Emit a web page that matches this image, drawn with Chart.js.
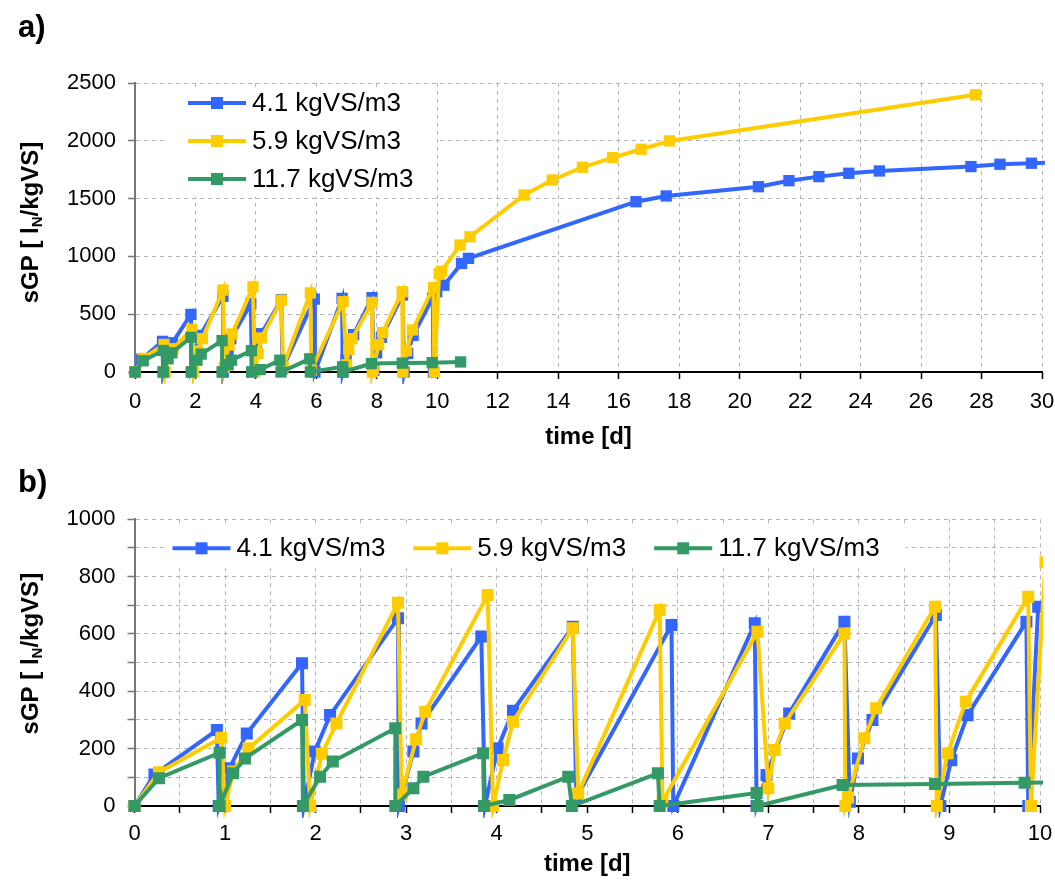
<!DOCTYPE html>
<html>
<head>
<meta charset="utf-8">
<script src="https://cdn.jsdelivr.net/npm/chart.js@4.4.0/dist/chart.umd.min.js"></script>
<style>
  body { margin: 0; background: #fff; width: 1055px; height: 881px; overflow: hidden; position: relative; }
  canvas { position: absolute; left: 0; }
  .tag { position: absolute; left: 18px; font: bold 31px Arial, "Liberation Sans", sans-serif; color: #000; z-index: 2; }
</style>
</head>
<body>
<canvas id="chartA" width="1055" height="454" style="top:0"></canvas>
<canvas id="chartB" width="1055" height="427" style="top:454px"></canvas>
<div class="tag" style="top:9px">a)</div>
<div class="tag" style="top:464px">b)</div>
<script>
// series labels
var seriesLabels = ['4.1 kgVS/m3', '5.9 kgVS/m3', '11.7 kgVS/m3'];

// 4.1 kgVS/m3 (time in days, sGP in lN/kgVS)
var days41 = [0, 0.22, 0.91, 0.93, 1.05, 1.24, 1.85, 1.87, 1.99, 2.16, 2.91, 2.92, 3.08, 3.17, 3.83, 3.87, 4.01, 4.18, 4.84, 4.88,
  5.93, 5.95, 6.85, 6.87, 6.98, 7.23, 7.84, 7.90, 7.99, 8.15, 8.85, 8.90, 9.02, 9.20, 9.85, 9.87, 9.98, 10.22, 10.80, 11.03,
  16.57, 17.57, 20.62, 21.63, 22.62, 23.61, 24.62, 27.65, 28.61, 29.65, 30.6];
var sgp41 = [0, 110, 265, 0, 132, 253, 498, 0, 190, 317, 655, 0, 190, 288, 591, 0, 201, 332, 625, 30,
  631, 0, 637, 0, 108, 323, 643, 15, 166, 300, 666, 0, 160, 317, 643, 0, 695, 751, 939, 983,
  1473, 1523, 1603, 1655, 1690, 1719, 1739, 1777, 1797, 1806, 1815];

// 5.9 kgVS/m3
var days59 = [0, 0.27, 0.96, 1.00, 1.09, 1.26, 1.88, 1.94, 2.07, 2.23, 2.91, 2.95, 3.11, 3.21, 3.90, 3.96, 4.07, 4.18, 4.84, 4.90,
  5.80, 5.83, 6.88, 7.00, 7.07, 7.18, 7.84, 7.85, 7.88, 8.06, 8.19, 8.84, 8.86, 8.98, 9.18, 9.87, 9.90, 10.06, 10.14, 10.75,
  11.08, 12.87, 13.80, 14.80, 15.80, 16.74, 17.68, 27.80];
var sgp59 = [0, 118, 238, 0, 120, 201, 370, 0, 182, 288, 709, 40, 233, 329, 736, 0, 160, 294, 620, 44,
  684, 15, 608, 62, 195, 288, 602, 0, 30, 236, 341, 695, 0, 184, 364, 730, 0, 850, 872, 1098,
  1170, 1531, 1661, 1771, 1854, 1927, 1999, 2398];

// 11.7 kgVS/m3
var days117 = [0, 0.27, 0.94, 0.94, 1.09, 1.22, 1.85, 1.86, 2.05, 2.19, 2.88, 2.88, 3.08, 3.19, 3.85, 3.86, 4.14, 4.79, 4.83, 5.78,
  5.80, 6.87, 6.88, 7.82, 8.84, 9.83, 10.77];
var sgp117 = [0, 97, 186, 0, 114, 166, 300, 0, 102, 155, 271, 0, 62, 102, 184, 0, 21, 102, 0, 114,
  0, 45, 0, 73, 77, 81, 87];

var ff = 'Arial, "Liberation Sans", sans-serif';
var blue = '#3366ff', yellow = '#ffcc00', green = '#339966';

function pts(xs, ys) {
  return xs.map(function (x, i) { return {x: x, y: ys[i]}; });
}

function makeDatasets(r) {
  var list = [
    {label: seriesLabels[0], data: pts(days41, sgp41), borderColor: blue, backgroundColor: blue, order: 3},
    {label: seriesLabels[1], data: pts(days59, sgp59), borderColor: yellow, backgroundColor: yellow, order: 2},
    {label: seriesLabels[2], data: pts(days117, sgp117), borderColor: green, backgroundColor: green, order: 1}
  ];
  list.forEach(function (d) {
    d.borderWidth = 4;
    d.pointStyle = 'rect';
    d.pointRadius = r;
    d.pointHoverRadius = r;
    d.pointBorderWidth = 0;
    d.pointBackgroundColor = d.borderColor;
    d.tension = 0;
    d.clip = {left: 12, top: 12, right: 3, bottom: 12};
  });
  return list;
}

// legend box + y title with subscript
var overlay = {
  id: 'overlay',
  afterDraw: function (chart, args, o) {
    var ctx = chart.ctx, area = chart.chartArea;
    ctx.save();
    ctx.fillStyle = '#fff';
    ctx.fillRect(area.left + o.box[0], area.top + o.box[1], o.box[2], o.box[3]);
    ctx.font = '26px ' + ff;
    ctx.textBaseline = 'middle';
    var x = area.left + o.legendX, y = area.top + o.legendY;
    chart.data.datasets.forEach(function (ds) {
      ctx.strokeStyle = ds.borderColor;
      ctx.lineWidth = 4;
      ctx.beginPath();
      ctx.moveTo(x, y);
      ctx.lineTo(x + 58, y);
      ctx.stroke();
      ctx.fillStyle = ds.borderColor;
      ctx.fillRect(x + 29 - 6, y - 6, 12, 12);
      ctx.fillStyle = '#000';
      ctx.fillText(ds.label, x + 64, y + 1);
      if (o.horizontal) x += 64 + ctx.measureText(ds.label).width + 28;
      else y += 38;
    });

    // y axis title
    var big = 'bold 24px ' + ff, small = 'bold 15px ' + ff;
    var parts = [['sGP [ l', big, 0], ['N', small, 4], ['/kgVS]', big, 0]];
    ctx.translate(o.titleX, (area.top + area.bottom) / 2 + o.titleDy);
    ctx.rotate(-Math.PI / 2);
    ctx.textBaseline = 'alphabetic';
    var total = 0;
    parts.forEach(function (p) { ctx.font = p[1]; total += ctx.measureText(p[0]).width; });
    var tx = -total / 2;
    parts.forEach(function (p) {
      ctx.font = p[1];
      ctx.fillText(p[0], tx, 8.5 + p[2]);
      tx += ctx.measureText(p[0]).width;
    });
    ctx.restore();
  }
};

function makeScales(xmax, xstep, ymax, ystep, ylabelStep, xlabelStep, yWidth, xHeight, tickPad) {
  return {
    x: {
      type: 'linear', min: 0, max: xmax,
      ticks: {
        stepSize: xstep, autoSkip: false, maxRotation: 0, color: '#000', padding: tickPad,
        font: {size: 22, family: ff},
        callback: function (v) { return Math.abs(v / xlabelStep - Math.round(v / xlabelStep)) < 1e-6 ? v : ''; }
      },
      grid: {color: '#b4b4b4', lineWidth: 1, tickLength: 7, tickColor: '#000', tickWidth: 1.5, tickBorderDash: []},
      border: {color: '#000', width: 2, dash: [4, 4]},
      title: {display: true, text: 'time [d]', color: '#000', font: {size: 24, weight: 'bold', family: ff}, padding: {top: 0, bottom: 2.5}},
      afterFit: function (s) {
        s.height = xHeight;
        // the end labels may hang past the plot edge, as in the original
        s.paddingLeft = 0;
        s.paddingRight = 0;
      }
    },
    y: {
      type: 'linear', min: 0, max: ymax,
      ticks: {
        stepSize: ystep, autoSkip: false, color: '#000', padding: 12,
        font: {size: 22, family: ff},
        callback: function (v) { return v % ylabelStep === 0 ? v : ''; }
      },
      grid: {color: '#b4b4b4', lineWidth: 1, tickLength: 7, tickColor: '#777', tickWidth: 1.5, tickBorderDash: []},
      border: {color: '#777', width: 2, dash: [4, 4]},
      afterFit: function (s) { s.width = yWidth; }
    }
  };
}

function makeChart(id, cfg) {
  return new Chart(document.getElementById(id), {
    type: 'line',
    data: {datasets: makeDatasets(cfg.r)},
    options: {
      responsive: false,
      animation: false,
      devicePixelRatio: 1,
      layout: {padding: {top: cfg.top, right: cfg.right, left: 0, bottom: 0}},
      scales: makeScales(cfg.xmax, cfg.xstep, cfg.ymax, cfg.ystep, cfg.ylabel, cfg.xlabel, cfg.yWidth, cfg.xHeight, cfg.tickPad),
      plugins: {
        legend: {display: false},
        tooltip: {enabled: false},
        overlay: cfg.overlay
      }
    },
    plugins: [overlay]
  });
}

makeChart('chartA', {
  r: 8, top: 83, right: 13, xmax: 30, xstep: 2, xlabel: 2, ymax: 2500, ystep: 500, ylabel: 500,
  yWidth: 135, xHeight: 82, tickPad: 10,
  overlay: {box: [30, 5, 272, 109], legendX: 53, legendY: 20, horizontal: false, titleX: 29.5, titleDy: -5}
});

makeChart('chartB', {
  r: 8.5, top: 65.3, right: 15, xmax: 10, xstep: 0.5, xlabel: 1, ymax: 1000, ystep: 100, ylabel: 200,
  yWidth: 134.5, xHeight: 75, tickPad: 8,
  overlay: {box: [31, 8, 740, 41], legendX: 38, legendY: 29, horizontal: true, titleX: 29.5, titleDy: -9}
});
</script>
</body>
</html>
